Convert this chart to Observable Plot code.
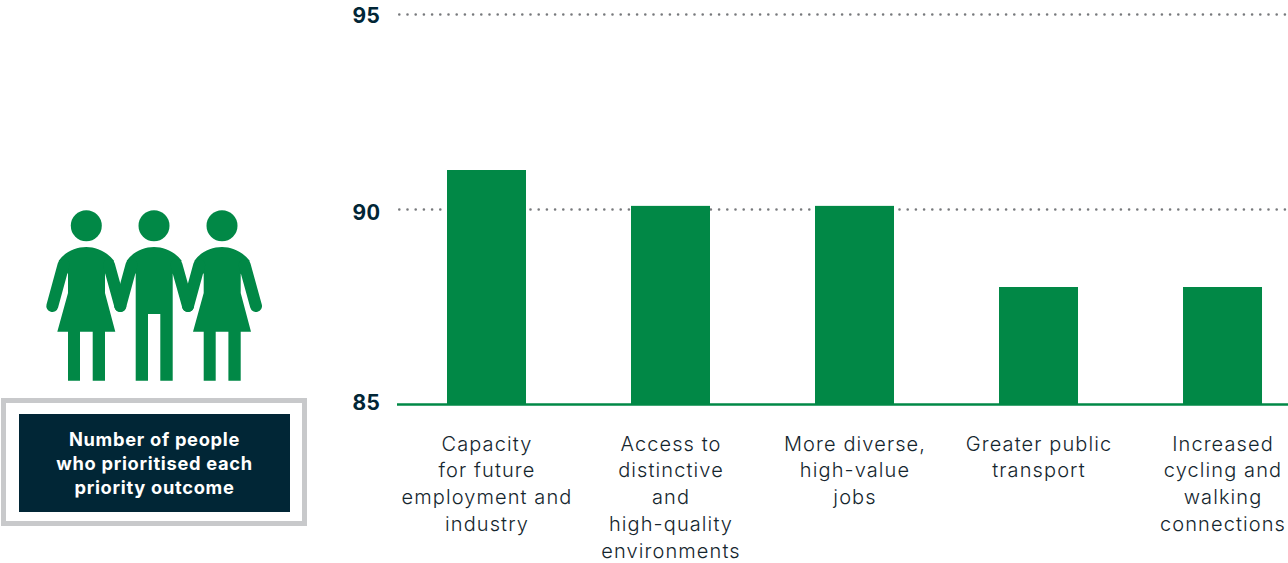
<!DOCTYPE html>
<html lang="en">
<head>
<meta charset="utf-8">
<title>Number of people who prioritised each priority outcome</title>
<script src="https://cdn.jsdelivr.net/npm/d3@7"></script>
<script src="https://cdn.jsdelivr.net/npm/@observablehq/plot@0.6"></script>
<style>
  html, body { margin: 0; padding: 0; background: #fff; }
  #stage { position: relative; width: 1288px; height: 563px; overflow: hidden; }
  #stage svg { display: block; }
  #people { position: absolute; left: 0; top: 200px; }
  #caption-frame {
    position: absolute; left: 1px; top: 398px; width: 306px; height: 128px;
    box-sizing: border-box; border: 5px solid #c8c9cb; background: #fff;
  }
  #caption {
    position: absolute; left: 13px; top: 11px; width: 271px; height: 98px;
    background: #012636; color: #fff;
    font: 700 18.3px/24px Inter, sans-serif; letter-spacing: 0.7px; text-align: center;
    display: flex; align-items: center; justify-content: center;
  }
  /* outcome labels are set wide and light */
  g[aria-label="x-axis tick label"] text { letter-spacing: 1.1px; }
  g[aria-label="y-axis tick label"] text { letter-spacing: 0.4px; }
</style>
</head>
<body>
<div id="stage">
  <div id="chart"></div>
  <!-- three figures holding hands -->
  <svg id="people" width="320" height="190" viewBox="0 200 320 190" fill="#018846" stroke="none">
    <defs>
      <g id="woman">
        <circle cx="86.3" cy="225.7" r="15.5"/>
        <path d="M68 274 V293 L57.3 331.7 H68 V380.7 H80 V331.7 H92.7 V380.7 H105 V331.7 H115.3 L105 293 V274 L114 260.7 C106 251 96 247 86.3 247 C76 247 66 251 58.7 260.7 Z"/>
        <path d="M63.5 265 L52.3 306 M109 265 L120.3 306" fill="none" stroke="#018846" stroke-width="12" stroke-linecap="round"/>
      </g>
    </defs>
    <use href="#woman"/>
    <use href="#woman" x="135.7"/>
    <circle cx="154" cy="225.7" r="15.5"/>
    <path d="M135.7 274 V380.7 H148 V314 H160.3 V380.7 H172.7 V274 L181.7 260.7 C174 251 164 247 154 247 C144 247 134 251 126.7 260.7 Z"/>
    <path d="M131.5 265 L120.3 306 M176.5 265 L188 306" fill="none" stroke="#018846" stroke-width="12" stroke-linecap="round"/>
  </svg>
  <div id="caption-frame">
    <div id="caption"><span>Number of people<br>who prioritised each<br>priority outcome</span></div>
  </div>
</div>
<script>
// Priority outcomes and how many people picked each one.
const outcomes = [
  "Capacity\nfor future\nemployment and\nindustry",
  "Access to\ndistinctive\nand\nhigh-quality\nenvironments",
  "More diverse,\nhigh-value\njobs",
  "Greater public\ntransport",
  "Increased\ncycling and\nwalking\nconnections"
];
const peopleCounts = [91, 90.08, 90.08, 88, 88];
const gridTicks = [90, 95];

const green = "#018846";
const navy = "#012636";

const rows = outcomes.map((outcome, i) => ({outcome, count: peopleCounts[i]}));

// Shared look of the value labels on the left.
const valueLabel = {
  tickSize: 0, tickPadding: 17, label: null,
  fontSize: 21, fontWeight: 700, fontFamily: "Inter, sans-serif", fill: navy
};

const chart = Plot.plot({
  width: 1288,
  height: 563,
  marginTop: 14,
  marginRight: 0,
  marginBottom: 159,
  marginLeft: 397,
  style: {background: "transparent"},
  x: {domain: outcomes, paddingInner: 0.5707, paddingOuter: 0.2065, align: 0.658, round: false},
  y: {domain: [85, 95]},
  marks: [
    Plot.ruleY(gridTicks, {stroke: "#77797c", strokeWidth: 2.6, strokeDasharray: "0,8.2", strokeDashoffset: -2.3, strokeLinecap: "round"}),
    Plot.barY(rows, {x: "outcome", y1: 85, y2: "count", fill: green}),
    Plot.ruleY([85], {stroke: green, strokeWidth: 2.6}),
    Plot.axisX({
      tickSize: 0, tickPadding: 27, lineHeight: 1.345,
      fontSize: 20, fontWeight: 300, fontFamily: "Inter, sans-serif",
      fill: "#15262e", label: null
    }),
    Plot.axisY([95], {...valueLabel, dy: 2}),
    Plot.axisY([90], {...valueLabel, dy: 4}),
    Plot.axisY([85], {...valueLabel, dy: -1})
  ]
});
document.getElementById("chart").append(chart);
</script>
</body>
</html>
